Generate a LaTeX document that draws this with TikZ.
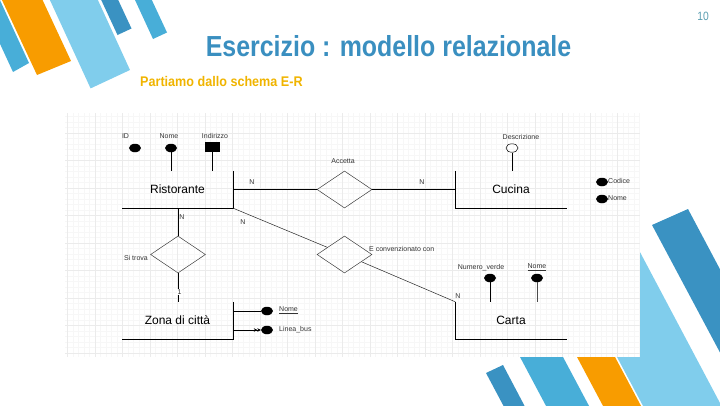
\documentclass[tikz,border=0pt]{standalone}
\usepackage{fontspec}
\setmainfont{Liberation Sans}
\newfontfamily\titlefont{Liberation Sans}[FakeStretch=0.86]
\newfontfamily\subfont{Liberation Sans}[FakeStretch=0.9]
\usetikzlibrary{shapes.geometric,arrows.meta}
\definecolor{dblue}{HTML}{3A92C2}
\definecolor{mblue}{HTML}{48AED8}
\definecolor{lblue}{HTML}{80CDEC}
\definecolor{orng}{HTML}{F89C00}
\definecolor{titleblue}{HTML}{3A8FC0}
\definecolor{subyellow}{HTML}{F0B400}
\definecolor{numcol}{HTML}{5A9DB0}
\begin{document}
\begin{tikzpicture}[x=1pt,y=-1pt,
  ent/.style={minimum width=111pt,minimum height=37pt,inner sep=0pt,font=\fontsize{12}{14}\selectfont},
  border/.style={line width=1.1pt,black},
  rel/.style={diamond,draw=black!75,line width=0.5pt,minimum width=55pt,minimum height=37pt,inner sep=0pt},
  attr/.style={ellipse,fill=black,minimum width=12pt,minimum height=8.5pt,inner sep=0pt},
  lbl/.style={font=\fontsize{7}{8}\selectfont,text=black!80,inner sep=1pt},
  conn/.style={line width=0.8pt,black},
  diag/.style={line width=0.5pt,black!85},
  alink/.style={line width=0.9pt,black}
]
\useasboundingbox (0,0) rectangle (720,405);
\clip (0,0) rectangle (720,405);
% decorative stripes top-left
\fill[mblue] (-29,-19) -- (-13,-28) -- (29,63) -- (13,72) -- cycle;
\fill[orng] (-2.7,-10) -- (37.9,-10) -- (71,61) -- (37,75) -- cycle;
\fill[lblue] (45.3,-10) -- (93.3,-10) -- (130,70) -- (90.6,88.4) -- cycle;
\fill[dblue] (98.9,-5) -- (115.9,-5) -- (131.5,28.5) -- (117.5,35) -- cycle;
\fill[mblue] (132.7,-5) -- (149.5,-5) -- (167,32.5) -- (153,39) -- cycle;
% decorative stripes bottom-right
\fill[dblue] (652,225) -- (688,209) -- (800,420) -- (756,420) -- cycle;
\fill[lblue] (538.8,210) -- (617.7,210) -- (729,420) -- (650.5,420) -- cycle;
\fill[orng] (546.7,300) -- (584.7,300) -- (648.5,420) -- (610.5,420) -- cycle;
\fill[mblue] (489.7,300) -- (532.7,300) -- (596.5,420) -- (553.5,420) -- cycle;
\fill[dblue] (486,373) -- (503,365) -- (532,420) -- (511,420) -- cycle;
% screenshot background with grid
\fill[white] (65,113) rectangle (640,357);
\begin{scope}
\clip (65,113) rectangle (640,357);
\foreach \i in {0,...,110} {\draw[black!3,line width=0.3pt] (62+5.5*\i,113) -- (62+5.5*\i,357);}
\foreach \i in {0,...,46} {\draw[black!3,line width=0.3pt] (65,111+5.5*\i) -- (640,111+5.5*\i);}
\foreach \i in {0,...,22} {\draw[black!8,line width=0.4pt] (67.5+27.5*\i,113) -- (67.5+27.5*\i,357);}
\foreach \i in {0,...,9} {\draw[black!8,line width=0.4pt] (65,105.5+27.5*\i) -- (640,105.5+27.5*\i);}
\end{scope}
% entities
\node[ent] (rist) at (177.5,189.5) {Ristorante};
\draw[border] (rist.north east) -- (rist.south east) -- (rist.south west);
\node[ent] (cuc) at (511,189.5) {Cucina};
\draw[border] (cuc.north west) -- (cuc.south west) -- (cuc.south east);
\node[ent] (zona) at (177.5,320.5) {Zona di città};
\draw[border] (zona.north east) -- (zona.south east) -- (zona.south west);
\node[ent] (carta) at (511,320.5) {Carta};
\draw[border] (carta.north west) -- (carta.south west) -- (carta.south east);
% relationships
\node[rel] (acc) at (344.5,189.5) {};
\node[rel] (sitr) at (178,254.5) {};
\node[rel] (conv) at (344.5,254.5) {};
\node[lbl] (accl) at (343,161) {Accetta};
\node[lbl,anchor=east] (sitrl) at (149,258) {Si trova};
\node[lbl,anchor=west] (convl) at (368,249) {E convenzionato con};
% connectors
\draw[conn] (rist.east) -- (acc.west);
\node[lbl] (n1) at (252,182) {N};
\draw[conn] (acc.east) -- (cuc.west);
\node[lbl] (n2) at (422,182) {N};
\draw[conn] (rist.south -| sitr.north) -- (sitr.north);
\node[lbl] (n3) at (182,217) {N};
\draw[conn] (sitr.south) -- (zona.north -| sitr.south);
\node[lbl,fill=white,inner sep=0.5pt] (one) at (179.5,292) {1};
\draw[diag] (rist.south east) -- (conv);
\node[lbl] (n4) at (243,222) {N};
\draw[diag] (conv) -- (carta.north west);
\node[lbl] (n5) at (458,296) {N};
% Ristorante attributes
\node[attr] (rid) at (135,148) {};
\node[lbl] (ridl) at (125.5,136) {ID};
\node[attr] (rnome) at (171,148) {};
\node[lbl] (rnomel) at (169,136) {Nome};
\node[fill=black,minimum width=15pt,minimum height=10pt,inner sep=0pt] (rind) at (212.5,147) {};
\node[lbl] (rindl) at (215,136) {Indirizzo};
\draw[alink] (rnome) -- (rnome |- rist.north);
\draw[alink] (rind) -- (rind |- rist.north);
% Cucina attributes
\node[ellipse,draw=black,line width=0.5pt,minimum width=12pt,minimum height=8.5pt,inner sep=0pt] (desc) at (512,148) {};
\node[lbl] (descl) at (521,137) {Descrizione};
\draw[alink] (desc) -- (desc |- cuc.north);
\node[attr] (ccod) at (602,182) {};
\node[lbl,anchor=west] (ccodl) at (607,181) {Codice};
\node[attr] (cnom) at (602,199) {};
\node[lbl,anchor=west] (cnoml) at (607,198) {Nome};
% Zona attributes
\node[attr] (znome) at (267,311) {};
\node[lbl,anchor=west] (znomel) at (278,310) {\underline{Nome}};
\draw[alink] (zona.east |- znome) -- (znome);
\node[attr] (zlin) at (267,330) {};
\node[lbl,anchor=west] (zlinl) at (278,330) {Linea\_bus};
\draw[alink,-{Stealth[length=3.5pt,width=3.5pt]Stealth[length=3.5pt,width=3.5pt]}] (zona.east |- zlin) -- (zlin.west);
% Carta attributes
\node[attr] (cnum) at (490,278) {};
\node[lbl] (cnuml) at (481,268) {Numero\_verde};
\draw[alink] (cnum) -- (cnum |- carta.north);
\node[attr] (cnome) at (537,278) {};
\node[lbl] (cnomel) at (537,267) {\underline{Nome}};
\draw[alink,black!70] (cnome) -- (cnome |- carta.north);
% titles
\node[anchor=base,font=\titlefont\bfseries\fontsize{29}{32}\selectfont,text=titleblue,inner sep=0pt] (title) at (388.5,56) {Esercizio : modello relazionale};
\node[anchor=base west,font=\subfont\bfseries\fontsize{14}{16}\selectfont,text=subyellow,inner sep=0pt] (sub) at (140,86) {Partiamo dallo schema E-R};
\node[anchor=base,font=\titlefont\fontsize{12}{14}\selectfont,text=numcol,inner sep=0pt] (num) at (703,20) {10};
\end{tikzpicture}
\end{document}
